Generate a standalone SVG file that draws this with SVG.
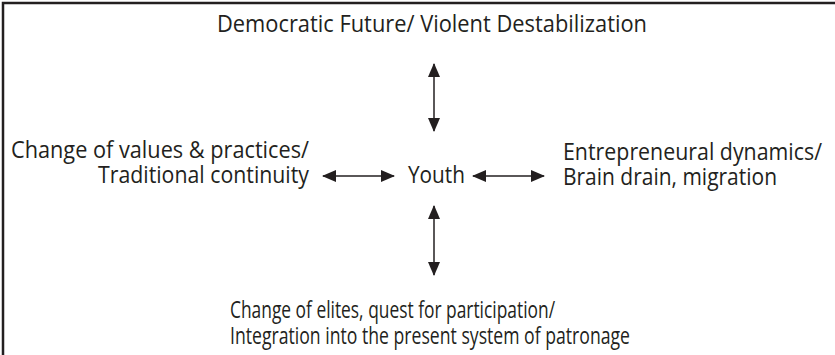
<svg xmlns="http://www.w3.org/2000/svg" width="835" height="355" viewBox="0 0 835 355">
  <style>
    .lbl { font-family: "Open Sans", "Noto Sans", sans-serif; font-size: 23.5px; fill: #231f20; }
    .frame { fill: none; stroke: #231f20; stroke-width: 2.5; }
    .link { fill: none; stroke: #231f20; stroke-width: 1.5; marker-start: url(#head); marker-end: url(#head); }
  </style>
  <defs>
    <marker id="head" viewBox="0 0 14 12" refX="13" refY="6" markerWidth="14" markerHeight="12" markerUnits="userSpaceOnUse" orient="auto-start-reverse">
      <path d="M0,0 L14,6 L0,12 Z" fill="#231f20"/>
    </marker>
  </defs>
  <rect width="835" height="355" fill="#ffffff"/>
  <!-- open frame: top and left edges -->
  <path class="frame" d="M3,355 V3 H835"/>

  <g id="connectors">
    <line class="link" x1="434" y1="64" x2="434" y2="131"/>
    <line class="link" x1="434" y1="206" x2="434" y2="275"/>
    <line class="link" x1="323" y1="176" x2="394" y2="176"/>
    <line class="link" x1="473" y1="176" x2="544" y2="176"/>
  </g>

  <g id="top">
    <text class="lbl" x="217" y="32" textLength="430" lengthAdjust="spacingAndGlyphs">Democratic Future/ Violent Destabilization</text>
  </g>
  <g id="left">
    <text class="lbl" x="11" y="158" textLength="298" lengthAdjust="spacingAndGlyphs">Change of values &amp; practices/</text>
    <text class="lbl" x="98" y="183" textLength="211" lengthAdjust="spacingAndGlyphs">Traditional continuity</text>
  </g>
  <g id="youth">
    <text class="lbl" x="408" y="183" textLength="57" lengthAdjust="spacingAndGlyphs">Youth</text>
  </g>
  <g id="right">
    <text class="lbl" x="563" y="160" textLength="259" lengthAdjust="spacingAndGlyphs">Entrepreneural dynamics/</text>
    <text class="lbl" x="563" y="185" textLength="214" lengthAdjust="spacingAndGlyphs">Brain drain, migration</text>
  </g>
  <g id="bottom">
    <text class="lbl" x="230" y="318" textLength="325" lengthAdjust="spacingAndGlyphs">Change of elites, quest for participation/</text>
    <text class="lbl" x="230" y="344" textLength="400" lengthAdjust="spacingAndGlyphs">Integration into the present system of patronage</text>
  </g>
</svg>
